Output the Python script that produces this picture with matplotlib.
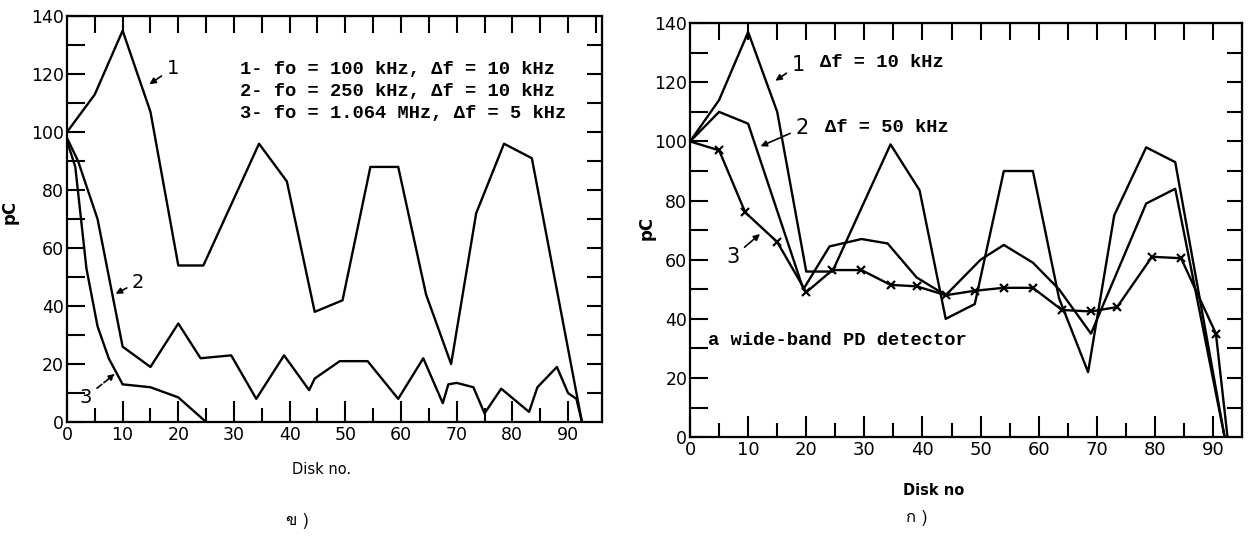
import numpy as np
import matplotlib
matplotlib.use('Agg')
import matplotlib.pyplot as plt
from matplotlib import font_manager
from matplotlib.ft2font import FT2Font

# ---- data ----
# left panel
left_x1 = [0, 5, 10, 15, 20, 24.5, 34.5, 39.5, 44.5, 49.5, 54.5, 59.5, 64.5, 69, 73.5, 78.5, 83.5, 92.5]
left_y1 = [100, 113, 135, 107, 54, 54, 96, 83, 38, 42, 88, 88, 44, 20, 72, 96, 91, 0]
left_x2 = [0, 2, 5.5, 10, 15, 20, 24, 29.5, 34, 39, 43.5, 44.5, 49, 54, 59.5, 64, 67.5, 68.5, 70, 73, 75,
           78, 83, 84.5, 88, 90, 91.5, 92.5]
left_y2 = [98, 90, 70, 26, 19, 34, 22, 23, 8, 23, 11, 15, 21, 21, 8, 22, 6.5, 13, 13.5, 12, 3,
           11.5, 3.5, 12, 19, 10, 8, 0]
left_x3 = [0, 1.5, 3.5, 5.5, 7.5, 10, 15, 20, 25]
left_y3 = [97, 88, 53, 33, 22, 13, 12, 8.5, 0]
left_legend = ['1- fo = 100 kHz, \u0394f = 10 kHz',
               '2- fo = 250 kHz, \u0394f = 10 kHz',
               '3- fo = 1.064 MHz, \u0394f = 5 kHz']

# right panel
right_x1 = [0, 5, 10, 15, 20, 24.5, 34.5, 39.5, 44, 49, 54, 59, 63.5, 68.5, 73, 78.5, 83.5, 92]
right_y1 = [100, 114, 137, 110, 56, 56, 99, 83.5, 40, 45, 90, 90, 47, 22, 75, 98, 93, 0]
right_x2 = [0, 5, 10, 19.5, 24, 29.5, 34, 39, 44, 50, 54, 59, 63.5, 69, 78.5, 83.5, 92]
right_y2 = [100, 110, 106, 50, 64.5, 67, 65.5, 54, 48, 60, 65, 59, 50, 35, 79, 84, 0]
right_x3 = [0, 5, 9.5, 15, 20, 24.5, 29.5, 34.5, 39, 44, 49, 54, 59, 64, 69, 73.5, 79.5, 84.5, 90.5, 92.5]
right_y3 = [100, 97, 76, 66, 49, 56.5, 56.5, 51.5, 51, 48, 49.5, 50.5, 50.5, 43, 42.5, 44, 61, 60.5, 35, 0]
right_notes = ['\u0394f = 10 kHz', '\u0394f = 50 kHz']
detector_note = 'a wide-band PD detector'


def thai_font():
    # look for any installed font that can draw Thai letters
    for f in font_manager.fontManager.ttflist:
        try:
            if 0x0E02 in FT2Font(f.fname).get_charmap():
                return f.name
        except Exception:
            pass
    return 'DejaVu Sans'


mono = dict(family='Liberation Mono', weight='bold', fontsize=13.5)

fig = plt.figure(figsize=(12.56, 5.39), dpi=100)
axL = fig.add_axes([0.0533, 0.217, 0.426, 0.753])
axR = fig.add_axes([0.5494, 0.189, 0.4395, 0.768])


def style(ax, xmax, xfs):
    ax.set_xlim(0, xmax)
    ax.set_ylim(0, 140)
    for s in ax.spines.values():
        s.set_linewidth(1.6)
    ax.set_xticks(np.arange(0, 91, 10))
    ax.set_xticks(np.arange(5, 91, 10), minor=True)
    ax.set_yticks(np.arange(0, 141, 20))
    ax.set_yticks(np.arange(10, 140, 20), minor=True)
    ax.tick_params(axis='x', which='major', direction='in', length=15, width=1.5, pad=3, labelsize=xfs)
    ax.tick_params(axis='x', which='minor', direction='in', length=10, width=1.5)
    ax.tick_params(axis='y', which='both', direction='in', length=13, width=1.5, pad=2, labelsize=12.5)
    top = ax.secondary_xaxis('top')
    top.set_xticks(np.arange(5, xmax, 5))
    top.set_xticklabels([])
    top.tick_params(direction='in', length=12, width=1.5)
    right = ax.secondary_yaxis('right')
    right.set_yticks(np.arange(10, 140, 10))
    right.set_yticklabels([])
    right.tick_params(direction='in', length=11, width=1.5)


# left panel
style(axL, 96.1, 12.5)
axL.plot(left_x1, left_y1, color='black', lw=1.7)
axL.plot(left_x2, left_y2, color='black', lw=1.7)
axL.plot(left_x3, left_y3, color='black', lw=1.7)
for i, line in enumerate(left_legend):
    axL.text(31.1, 121.7 - 7.7 * i, line, va='center', ha='left', **mono)
arrow = dict(arrowstyle='-|>', color='black', lw=1.2, mutation_scale=9)
axL.annotate('1', xy=(14.4, 116), xytext=(19, 122), fontsize=14, ha='center', va='center', arrowprops=arrow)
axL.annotate('2', xy=(8.3, 43.8), xytext=(12.8, 48.3), fontsize=14, ha='center', va='center', arrowprops=arrow)
axL.annotate('3', xy=(9, 17.2), xytext=(3.4, 8.6), fontsize=14, ha='center', va='center',
             arrowprops=dict(arrow, linestyle='--'))
axL.set_xlabel('Disk no.', fontsize=10.5)
axL.xaxis.set_label_coords(0.475, -0.099)
axL.set_ylabel('pC', fontsize=12, fontweight='bold')
axL.yaxis.set_label_coords(-0.09, 0.517)

# right panel
style(axR, 95, 13)
axR.plot(right_x1, right_y1, color='black', lw=1.7)
axR.plot(right_x2, right_y2, color='black', lw=1.7)
axR.plot(right_x3, right_y3, color='black', lw=1.7, marker='x', ms=6, mew=1.6,
         markevery=list(range(1, len(right_x3) - 1)))
axR.text(22.4, 126.8, right_notes[0], va='center', ha='left', **mono)
axR.text(23.2, 104.8, right_notes[1], va='center', ha='left', **mono)
axR.text(3.1, 32.8, detector_note, va='center', ha='left', **mono)
axR.annotate('1', xy=(14.3, 120), xytext=(18.6, 125.8), fontsize=15, ha='center', va='center', arrowprops=arrow)
axR.annotate('2', xy=(11.7, 98), xytext=(19.3, 104.5), fontsize=15, ha='center', va='center', arrowprops=arrow)
axR.annotate('3', xy=(12.4, 69.3), xytext=(7.4, 60.9), fontsize=15, ha='center', va='center', arrowprops=arrow)
axR.set_xlabel('Disk no', fontsize=10.5, fontweight='bold')
axR.xaxis.set_label_coords(0.442, -0.111)
axR.set_ylabel('pC', fontsize=12, fontweight='bold')
axR.yaxis.set_label_coords(-0.063, 0.505)

# panel captions
tf = thai_font()
fig.text(0.237, 0.033, '\u0e02 )', fontsize=12, ha='center', va='center', family=[tf, 'DejaVu Sans'])
fig.text(0.730, 0.039, '\u0e01 )', fontsize=12, ha='center', va='center', family=[tf, 'DejaVu Sans'])

fig.savefig('out.png', dpi=100)
plt.close(fig)
